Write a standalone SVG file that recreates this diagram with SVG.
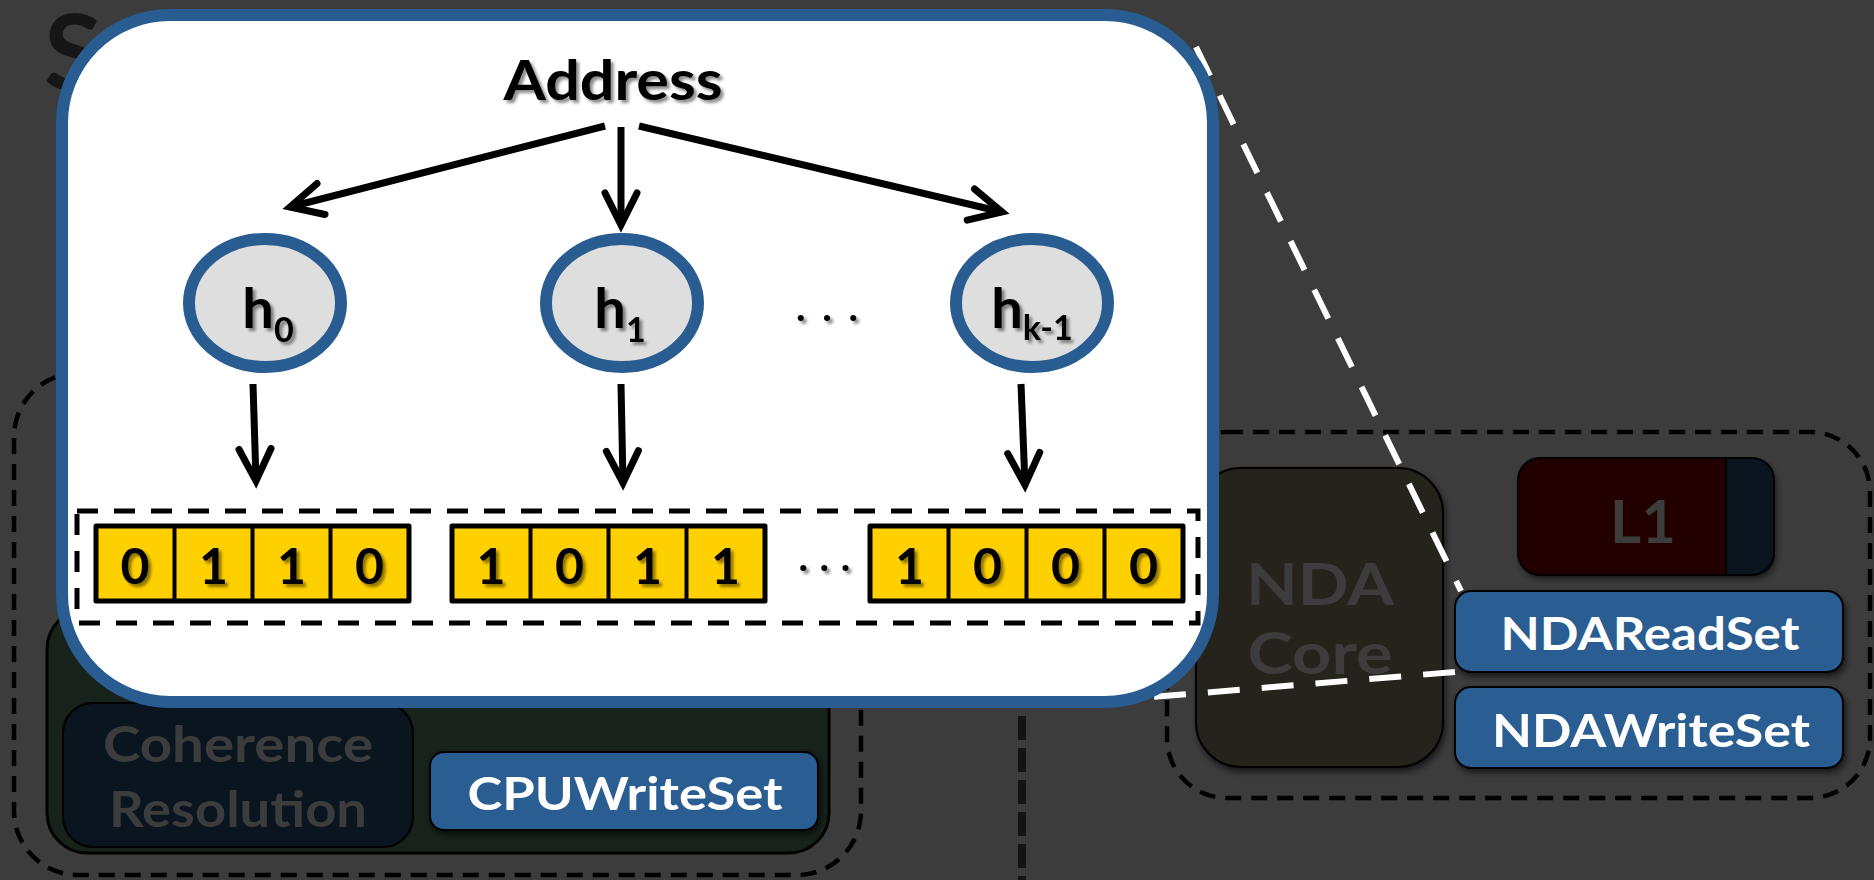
<svg xmlns="http://www.w3.org/2000/svg" width="1874" height="880" viewBox="0 0 1874 880">
  <defs>
    <style>
      .lbl { font-family: "Lato", "Open Sans", "DejaVu Sans", sans-serif; font-weight: 700; }
      .ink { fill: #000; }
      .dim { fill: #3c3c3c; }
      .wht { fill: #fff; }
      .conn { fill: none; stroke: #000; stroke-width: 7; }
      .bits rect { fill: #ffd000; stroke: #000; stroke-width: 5; stroke-linejoin: round; }
      .bits line { stroke: #000; stroke-width: 4; }
      .blue { fill: #295d91; stroke: #000; stroke-width: 2; }
      .hash { fill: #dedede; stroke: #295d91; stroke-width: 12; }
      .zoomline { fill: none; stroke: #fff; stroke-width: 6; stroke-dasharray: 32 22; }
    </style>
    <filter id="tshadow" x="-20%" y="-30%" width="140%" height="160%">
      <feDropShadow dx="3" dy="3" stdDeviation="1.6" flood-color="#000" flood-opacity="0.45"/>
    </filter>
    <filter id="bshadow" x="-10%" y="-10%" width="125%" height="130%">
      <feDropShadow dx="2" dy="4" stdDeviation="3" flood-color="#000" flood-opacity="0.6"/>
    </filter>
    <marker id="chev" markerUnits="userSpaceOnUse" viewBox="-40 -25 50 50" refX="0" refY="0" markerWidth="50" markerHeight="50" orient="auto" overflow="visible">
      <path d="M-32,-16 L0,0 L-32,16" fill="none" stroke="#000" stroke-width="7" stroke-linecap="round" stroke-linejoin="miter"/>
    </marker>
  </defs>

  <!-- slide background -->
  <rect x="0" y="0" width="1874" height="880" fill="#3c3c3c"/>
  <text class="lbl" x="44" y="90" font-size="106" fill="#161616">S</text>

  <!-- separator between the two sides -->
  <line x1="1022" y1="300" x2="1022" y2="880" stroke="#131313" stroke-width="8" stroke-dasharray="24 8"/>

  <!-- CPU side -->
  <g id="cpu-region">
    <rect x="14" y="373" width="847" height="502" rx="64" fill="none" stroke="#000" stroke-width="4.5" stroke-dasharray="16 10"/>
    <rect x="47" y="609" width="782" height="244" rx="40" fill="#17221a" stroke="#000" stroke-width="3"/>
  </g>
  <g id="coherence-resolution">
    <rect x="63" y="703" width="350" height="144" rx="30" fill="#0a1520" stroke="#000" stroke-width="2"/>
    <text class="lbl dim" x="238" y="762" font-size="49" text-anchor="middle" textLength="270" lengthAdjust="spacingAndGlyphs">Coherence</text>
    <text class="lbl dim" x="238" y="827" font-size="49" text-anchor="middle" textLength="258" lengthAdjust="spacingAndGlyphs">Resolution</text>
  </g>
  <g id="cpu-write-set">
    <rect class="blue" x="430" y="752" width="388" height="78" rx="14" filter="url(#bshadow)"/>
    <text class="lbl wht" x="625" y="810" font-size="46" text-anchor="middle" textLength="315" lengthAdjust="spacingAndGlyphs">CPUWriteSet</text>
  </g>

  <!-- NDA side -->
  <g id="nda-region">
    <rect x="1167" y="432" width="703" height="366" rx="60" fill="none" stroke="#000" stroke-width="4.5" stroke-dasharray="16 10"/>
  </g>
  <g id="nda-core">
    <rect x="1196" y="468" width="247" height="299" rx="45" fill="#26241b" stroke="#000" stroke-width="2" filter="url(#bshadow)"/>
    <text class="lbl dim" x="1320" y="605" font-size="58" text-anchor="middle" textLength="148" lengthAdjust="spacingAndGlyphs">NDA</text>
    <text class="lbl dim" x="1320" y="674" font-size="58" text-anchor="middle" textLength="145" lengthAdjust="spacingAndGlyphs">Core</text>
  </g>
  <g id="l1-cache">
    <rect x="1518" y="458" width="256" height="117" rx="22" fill="#220503" filter="url(#bshadow)"/>
    <path d="M1726,458 H1752 A22,22 0 0 1 1774,480 V553 A22,22 0 0 1 1752,575 H1726 Z" fill="#0a1520"/>
    <line x1="1726" y1="458" x2="1726" y2="575" stroke="#000" stroke-width="2"/>
    <rect x="1518" y="458" width="256" height="117" rx="22" fill="none" stroke="#000" stroke-width="2"/>
    <text class="lbl dim" x="1643" y="543" font-size="60" text-anchor="middle">L1</text>
  </g>

  <!-- zoom-out guide lines from the magnified view -->
  <g id="connectors-zoom">
    <line class="zoomline" x1="1196" y1="47" x2="1461" y2="591"/>
    <line class="zoomline" x1="1455" y1="672" x2="1140" y2="698"/>
  </g>

  <g id="nda-read-set">
    <rect class="blue" x="1455" y="591" width="388" height="81" rx="16" filter="url(#bshadow)"/>
    <text class="lbl wht" x="1650" y="650" font-size="45" text-anchor="middle" textLength="299" lengthAdjust="spacingAndGlyphs">NDAReadSet</text>
  </g>
  <g id="nda-write-set">
    <rect class="blue" x="1455" y="687" width="388" height="81" rx="16" filter="url(#bshadow)"/>
    <text class="lbl wht" x="1651" y="747" font-size="45" text-anchor="middle" textLength="318" lengthAdjust="spacingAndGlyphs">NDAWriteSet</text>
  </g>

  <!-- magnified view of the signature -->
  <g id="signature-panel">
    <rect x="62" y="15" width="1151" height="687" rx="108" fill="#fff" stroke="#295d91" stroke-width="12"/>
  </g>

  <g id="address">
    <text class="lbl ink" x="613" y="100" font-size="56" text-anchor="middle" textLength="219" lengthAdjust="spacingAndGlyphs" filter="url(#tshadow)">Address</text>
  </g>

  <g id="hash-0">
    <ellipse class="hash" cx="265" cy="303" rx="76" ry="64"/>
    <text class="lbl ink" x="268" y="328" font-size="56" text-anchor="middle" filter="url(#tshadow)">h<tspan font-size="34" dy="14">0</tspan></text>
  </g>
  <g id="hash-1">
    <ellipse class="hash" cx="622" cy="303" rx="76" ry="64"/>
    <text class="lbl ink" x="620" y="328" font-size="56" text-anchor="middle" filter="url(#tshadow)">h<tspan font-size="34" dy="14">1</tspan></text>
  </g>
  <text class="lbl ink" x="796" y="321" font-size="40" letter-spacing="16.7" filter="url(#tshadow)">...</text>
  <g id="hash-k-1">
    <ellipse class="hash" cx="1032" cy="303" rx="76" ry="64"/>
    <text class="lbl ink" x="1032" y="328" font-size="56" text-anchor="middle" filter="url(#tshadow)">h<tspan font-size="34" dy="12">k-1</tspan></text>
  </g>

  <!-- bit vectors -->
  <rect x="77" y="511" width="1121" height="112" fill="none" stroke="#000" stroke-width="5" stroke-dasharray="21 16"/>
  <g id="bits-0" class="bits">
    <rect x="96" y="526" width="313" height="75"/>
    <line x1="174.5" y1="526" x2="174.5" y2="601"/>
    <line x1="252.5" y1="526" x2="252.5" y2="601"/>
    <line x1="330.5" y1="526" x2="330.5" y2="601"/>
    <g class="lbl ink" font-size="50" text-anchor="middle" filter="url(#tshadow)">
      <text x="135" y="584">0</text>
      <text x="213.5" y="584">1</text>
      <text x="291.5" y="584">1</text>
      <text x="369.5" y="584">0</text>
    </g>
  </g>
  <g id="bits-1" class="bits">
    <rect x="452" y="526" width="313" height="75"/>
    <line x1="530.5" y1="526" x2="530.5" y2="601"/>
    <line x1="608.5" y1="526" x2="608.5" y2="601"/>
    <line x1="686.5" y1="526" x2="686.5" y2="601"/>
    <g class="lbl ink" font-size="50" text-anchor="middle" filter="url(#tshadow)">
      <text x="491" y="584">1</text>
      <text x="569.5" y="584">0</text>
      <text x="647.5" y="584">1</text>
      <text x="725.5" y="584">1</text>
    </g>
  </g>
  <text class="lbl ink" x="798.4" y="571" font-size="40" letter-spacing="11.7" filter="url(#tshadow)">...</text>
  <g id="bits-k-1" class="bits">
    <rect x="870" y="526" width="313" height="75"/>
    <line x1="948.5" y1="526" x2="948.5" y2="601"/>
    <line x1="1026.5" y1="526" x2="1026.5" y2="601"/>
    <line x1="1104.5" y1="526" x2="1104.5" y2="601"/>
    <g class="lbl ink" font-size="50" text-anchor="middle" filter="url(#tshadow)">
      <text x="909.5" y="584">1</text>
      <text x="987.5" y="584">0</text>
      <text x="1065.5" y="584">0</text>
      <text x="1143.5" y="584">0</text>
    </g>
  </g>

  <!-- hash arrows -->
  <g id="connectors">
    <line class="conn" x1="605" y1="126" x2="290" y2="207" marker-end="url(#chev)"/>
    <line class="conn" x1="621" y1="127" x2="621" y2="225" marker-end="url(#chev)"/>
    <line class="conn" x1="639" y1="126" x2="1002" y2="212" marker-end="url(#chev)"/>
    <line class="conn" x1="253" y1="384" x2="256" y2="481" marker-end="url(#chev)"/>
    <line class="conn" x1="621" y1="384" x2="623" y2="483" marker-end="url(#chev)"/>
    <line class="conn" x1="1021" y1="384" x2="1025" y2="485" marker-end="url(#chev)"/>
  </g>
</svg>
